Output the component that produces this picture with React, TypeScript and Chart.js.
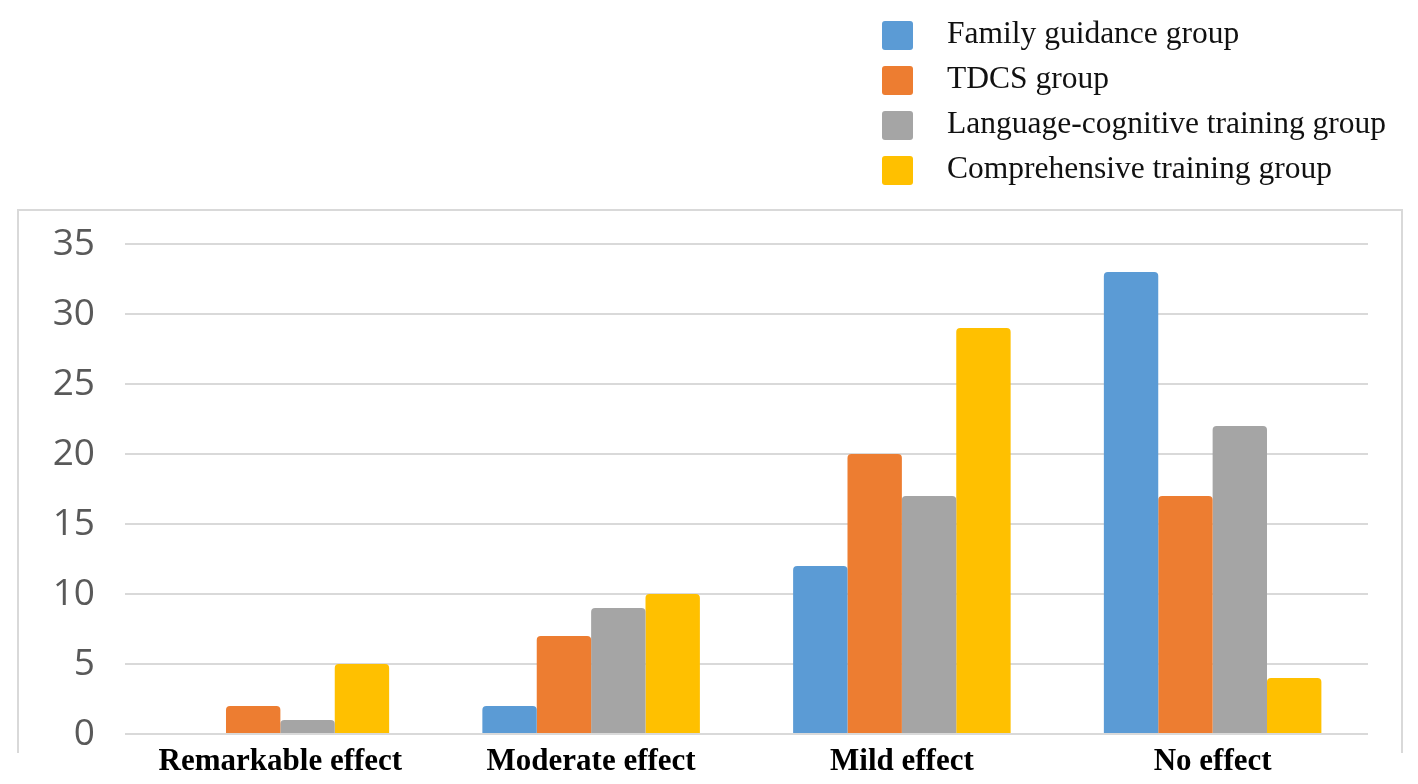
import React, { useEffect, useRef } from "react";
import { Chart, registerables } from "chart.js";

Chart.register(...registerables);

const categories = ["Remarkable effect", "Moderate effect", "Mild effect", "No effect"];
const seriesNames = [
  "Family guidance group",
  "TDCS group",
  "Language-cognitive training group",
  "Comprehensive training group",
];
const familyGuidance = [0, 2, 12, 33];
const tdcs = [2, 7, 20, 17];
const languageCognitive = [1, 9, 17, 22];
const comprehensive = [5, 10, 29, 4];
const yTicks = [0, 5, 10, 15, 20, 25, 30, 35];

const colors = ["#5B9BD5", "#ED7D31", "#A5A5A5", "#FFC000"];

const frameAndLegend = {
  id: "frameAndLegend",
  beforeDraw(chart: any) {
    const { ctx, chartArea } = chart;
    ctx.save();
    ctx.strokeStyle = "#d9d9d9";
    ctx.lineWidth = 2;
    const left = chartArea.left - 107;
    const top = chartArea.top - 34;
    const right = chartArea.right + 34;
    const bottom = chartArea.bottom + 19;
    ctx.beginPath();
    ctx.moveTo(left, bottom);
    ctx.lineTo(left, top);
    ctx.lineTo(right, top);
    ctx.lineTo(right, bottom);
    ctx.stroke();
    ctx.restore();
  },
  afterDraw(chart: any) {
    const { ctx } = chart;
    ctx.save();
    const x0 = 882;
    const y0 = 35;
    const step = 45;
    chart.data.datasets.forEach((ds: any, i: number) => {
      const cy = y0 + i * step;
      ctx.fillStyle = ds.backgroundColor;
      ctx.beginPath();
      if (ctx.roundRect) {
        ctx.roundRect(x0, cy - 14, 31, 29, 3);
      } else {
        ctx.rect(x0, cy - 14, 31, 29);
      }
      ctx.fill();
      ctx.fillStyle = "#111111";
      ctx.font = "31.5px 'Liberation Serif', 'Times New Roman', serif";
      ctx.textBaseline = "middle";
      ctx.textAlign = "left";
      ctx.fillText(ds.label, x0 + 65, cy);
    });
    ctx.restore();
  },
};

export default function App() {
  const canvasRef = useRef<HTMLCanvasElement | null>(null);

  useEffect(() => {
    if (!canvasRef.current) return;
    const seriesValues = [familyGuidance, tdcs, languageCognitive, comprehensive];
    const chart = new Chart(canvasRef.current, {
      type: "bar",
      data: {
        labels: categories,
        datasets: seriesNames.map((name, i) => ({
          label: name,
          data: seriesValues[i],
          backgroundColor: colors[i],
          borderWidth: 0,
          borderRadius: { topLeft: 4, topRight: 4, bottomLeft: 0, bottomRight: 0 },
          borderSkipped: "bottom",
          categoryPercentage: 0.7,
          barPercentage: 1.0,
        })),
      },
      options: {
        responsive: false,
        animation: false,
        devicePixelRatio: 1,
        layout: { padding: { top: 244, left: 0, right: 50, bottom: 0 } },
        plugins: {
          legend: { display: false },
          tooltip: { enabled: false },
          title: { display: false },
        },
        scales: {
          x: {
            grid: { display: false, drawTicks: false },
            border: { display: false },
            ticks: {
              color: "#000000",
              padding: 12,
              font: { family: "'Liberation Serif', 'Times New Roman', serif", size: 31, weight: "bold", lineHeight: 1 },
            },
            afterFit(scale: any) {
              scale.height = 50;
            },
          },
          y: {
            min: 0,
            max: 35,
            afterBuildTicks(scale: any) {
              scale.ticks = yTicks.map((v) => ({ value: v }));
            },
            grid: {
              color: "#d9d9d9",
              lineWidth: 2,
              drawTicks: false,
            },
            border: { display: false },
            ticks: {
              color: "#595959",
              padding: 30,
              font: { family: "'Open Sans', sans-serif", size: 37, lineHeight: 1 },
            },
            afterFit(scale: any) {
              scale.width = 125;
            },
          },
        },
      },
      plugins: [frameAndLegend],
    });
    return () => chart.destroy();
  }, []);

  return (
    <div style={{ position: "absolute", left: 0, top: 0, width: 1418, height: 784, background: "#ffffff" }}>
      <canvas ref={canvasRef} width={1418} height={784} style={{ width: 1418, height: 784, display: "block" }} />
    </div>
  );
}
